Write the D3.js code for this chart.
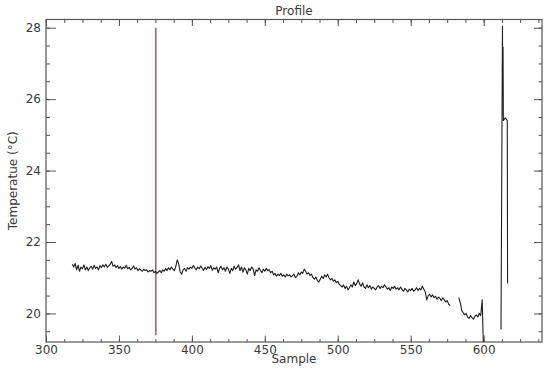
<!DOCTYPE html>
<html>
<head>
<meta charset="utf-8">
<script src="https://cdn.jsdelivr.net/npm/d3@7"></script>
<style>
  body { margin: 0; background: #fff; }
  svg { display: block; font-family: "DejaVu Sans", sans-serif; }
  .lbl { fill: #3a3a3a; font-size: 12px; }
</style>
</head>
<body>
<svg id="chart" width="550" height="371"></svg>
<script>
// samples 318..577
const seg1Start = 318;
const seg1Temp = [
  21.38, 21.30, 21.40, 21.22, 21.35, 21.18, 21.30, 21.25, 21.36, 21.22, 21.30, 21.20, 21.28,
  21.32, 21.24, 21.35, 21.26, 21.30, 21.22, 21.34, 21.28, 21.36, 21.30, 21.38, 21.29, 21.33, 21.37, 21.46,
  21.32, 21.36, 21.28, 21.34, 21.26, 21.31, 21.24, 21.30, 21.27, 21.35, 21.25, 21.29, 21.22, 21.26, 21.33,
  21.24, 21.28, 21.20, 21.25, 21.22, 21.18, 21.24, 21.20, 21.22, 21.16, 21.20, 21.18, 21.22, 21.14, 21.18,
  21.12, 21.16, 21.20, 21.14, 21.22, 21.18, 21.26, 21.20, 21.28, 21.22, 21.30, 21.24, 21.20, 21.32, 21.50,
  21.38, 21.16, 21.10, 21.22, 21.26, 21.18, 21.28, 21.24, 21.30, 21.26, 21.34, 21.28, 21.22, 21.30, 21.25,
  21.33, 21.27, 21.20, 21.29, 21.23, 21.31, 21.26, 21.34, 21.21, 21.28, 21.24, 21.30, 21.14, 21.26, 21.32,
  21.22, 21.28, 21.18, 21.30, 21.24, 21.12, 21.26, 21.20, 21.32, 21.24, 21.29, 21.36, 21.20, 21.30, 21.16,
  21.28, 21.22, 21.10, 21.26, 21.20, 21.30, 21.24, 21.06, 21.22, 21.18, 21.28, 21.20, 21.14, 21.24, 21.18,
  21.26, 21.20, 21.22, 21.14, 21.18, 21.08, 21.12, 21.04, 21.10, 21.06, 21.12, 21.04, 21.08, 21.02, 21.10,
  21.05, 21.08, 21.02, 21.06, 21.10, 21.00, 21.04, 21.14, 21.08, 21.16, 21.12, 21.24, 21.18, 21.10, 21.14,
  21.06, 21.10, 21.00, 20.96, 21.02, 20.92, 20.88, 20.96, 21.04, 20.98, 21.08, 21.02, 21.10, 21.00, 20.94,
  20.98, 20.90, 20.94, 20.86, 20.90, 20.82, 20.78, 20.74, 20.80, 20.70, 20.76, 20.66, 20.72, 20.80, 20.74,
  20.88, 20.78, 20.84, 20.94, 20.82, 20.76, 20.86, 20.74, 20.70, 20.80, 20.72, 20.78, 20.68, 20.74, 20.70,
  20.66, 20.74, 20.78, 20.70, 20.76, 20.72, 20.80, 20.74, 20.68, 20.72, 20.64, 20.74, 20.70, 20.76, 20.68,
  20.72, 20.66, 20.74, 20.68, 20.62, 20.70, 20.66, 20.60, 20.68, 20.64, 20.70, 20.62, 20.66, 20.72, 20.64,
  20.70, 20.66, 20.76, 20.68, 20.60, 20.38, 20.50, 20.54, 20.46, 20.52, 20.44, 20.48, 20.40, 20.46, 20.42,
  20.36, 20.44, 20.38, 20.32, 20.36, 20.26, 20.22
];

// samples 583..600
const seg2Start = 583;
const seg2Temp = [
  20.44, 20.30, 20.08, 20.02, 19.96, 20.00, 19.90, 19.86, 19.94, 19.88,
  19.84, 19.92, 19.96, 19.90, 20.00, 19.94, 20.38, 18.80
];

// the spike near the end
const spikeSample = [611.9, 612.9, 613.1, 613.3, 613.5, 614.8, 616.2, 616.4];
const spikeTemp   = [19.55, 28.04, 26.20, 27.46, 25.40, 25.48, 25.40, 20.84];

// red marker line
const markerSample = 375.3;
const markerTemp = [28.0, 19.39];

const xDomain = [300, 640];
const yDomain = [19.2, 28.23];
const xMajor = [300, 350, 400, 450, 500, 550, 600];
const yMajor = [20, 22, 24, 26, 28];

const m = { left: 46, right: 8, top: 19.5, bottom: 29 };
const W = 550, H = 371;

const svg = d3.select("#chart");
const x = d3.scaleLinear().domain(xDomain).range([m.left, W - m.right]);
const y = d3.scaleLinear().domain(yDomain).range([H - m.bottom, m.top]);

const xMinor = d3.range(300, 640, 12.5);
const yMinor = d3.range(19.5, 28.01, 0.5);

svg.append("defs").append("clipPath").attr("id", "clip")
  .append("rect")
  .attr("x", x(xDomain[0])).attr("y", y(yDomain[1]))
  .attr("width", x(xDomain[1]) - x(xDomain[0]))
  .attr("height", y(yDomain[0]) - y(yDomain[1]));

function styleAxis(g) {
  g.select(".domain").remove();
  g.selectAll(".tick line").attr("stroke", "#555");
  g.selectAll(".tick text").attr("class", "lbl").attr("fill", "#3a3a3a")
    .style("font-size", "12px").style("font-family", "DejaVu Sans, sans-serif");
}

// bottom
svg.append("g").attr("transform", `translate(0,${y(yDomain[0])})`)
  .call(d3.axisBottom(x).tickValues(xMinor).tickSize(-3).tickFormat(""))
  .call(styleAxis);
svg.append("g").attr("transform", `translate(0,${y(yDomain[0])})`)
  .call(d3.axisBottom(x).tickValues(xMajor).tickSizeInner(-6.5).tickSizeOuter(0).tickPadding(3).tickFormat(d3.format("d")))
  .call(styleAxis);
// top
svg.append("g").attr("transform", `translate(0,${y(yDomain[1])})`)
  .call(d3.axisTop(x).tickValues(xMinor).tickSize(-3.5).tickFormat(""))
  .call(styleAxis);
svg.append("g").attr("transform", `translate(0,${y(yDomain[1])})`)
  .call(d3.axisTop(x).tickValues(xMajor).tickSize(-6.5).tickFormat(""))
  .call(styleAxis);
// left
svg.append("g").attr("transform", `translate(${x(xDomain[0])},0)`)
  .call(d3.axisLeft(y).tickValues(yMinor).tickSize(-4).tickFormat(""))
  .call(styleAxis);
svg.append("g").attr("transform", `translate(${x(xDomain[0])},0)`)
  .call(d3.axisLeft(y).tickValues(yMajor).tickSizeInner(-10).tickSizeOuter(0).tickPadding(5).tickFormat(d3.format("d")))
  .call(styleAxis);
// right
svg.append("g").attr("transform", `translate(${x(xDomain[1])},0)`)
  .call(d3.axisRight(y).tickValues(yMinor).tickSize(-3.5).tickFormat(""))
  .call(styleAxis);
svg.append("g").attr("transform", `translate(${x(xDomain[1])},0)`)
  .call(d3.axisRight(y).tickValues(yMajor).tickSize(-8).tickFormat(""))
  .call(styleAxis);

svg.append("rect")
  .attr("x", x(xDomain[0])).attr("y", y(yDomain[1]))
  .attr("width", x(xDomain[1]) - x(xDomain[0]))
  .attr("height", y(yDomain[0]) - y(yDomain[1]))
  .attr("fill", "none").attr("stroke", "#555").attr("stroke-width", 1.2);

const plot = svg.append("g").attr("clip-path", "url(#clip)");

// red marker
plot.append("line")
  .attr("x1", x(markerSample)).attr("x2", x(markerSample))
  .attr("y1", y(markerTemp[0])).attr("y2", y(markerTemp[1]))
  .attr("stroke", "#a8354e").attr("stroke-width", 1.3);

const line = d3.line().x(d => x(d[0])).y(d => y(d[1]));
const seg1 = seg1Temp.map((t, i) => [seg1Start + i, t]);
const seg2 = seg2Temp.map((t, i) => [seg2Start + i, t]);
const seg3 = spikeSample.map((s, i) => [s, spikeTemp[i]]);

plot.selectAll("path.data")
  .data([seg1, seg2, seg3])
  .join("path")
  .attr("class", "data")
  .attr("d", line)
  .attr("fill", "none")
  .attr("stroke", "#1e1e1e")
  .attr("stroke-width", 1.1)
  .attr("stroke-linejoin", "round");

// titles
const cx = (x(xDomain[0]) + x(xDomain[1])) / 2;
svg.append("text").attr("class", "lbl").attr("x", cx).attr("y", 15)
  .attr("text-anchor", "middle").text("Profile");
svg.append("text").attr("class", "lbl").attr("x", cx).attr("y", 363)
  .attr("text-anchor", "middle").text("Sample");
svg.append("text").attr("class", "lbl")
  .attr("transform", `translate(17,${(y(yDomain[0]) + y(yDomain[1])) / 2}) rotate(-90)`)
  .attr("text-anchor", "middle").text("Temperatue (°C)");
</script>
</body>
</html>
